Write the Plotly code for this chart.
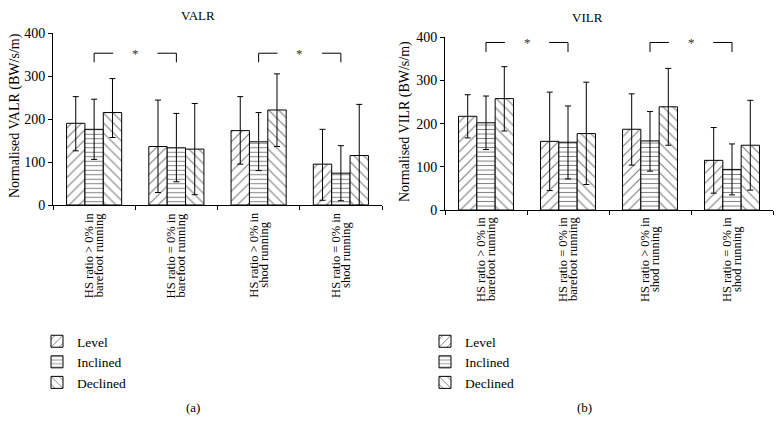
import plotly.graph_objects as go

categories = [("HS ratio > 0% in", "barefoot running"), ("HS ratio = 0% in", "barefoot running"),
              ("HS ratio > 0% in", "shod running"), ("HS ratio = 0% in", "shod running")]
series = ["Level", "Inclined", "Declined"]

# VALR (panel a)
valr_level = [190, 136, 173, 95]
valr_level_up = [62, 108, 79, 81]
valr_level_dn = [64, 107, 78, 84]
valr_incl = [176, 133, 147, 74]
valr_incl_up = [70, 80, 68, 64]
valr_incl_dn = [70, 79, 67, 64]
valr_decl = [215, 130, 221, 115]
valr_decl_up = [79, 106, 84, 119]
valr_decl_dn = [58, 106, 85, 115]

# VILR (panel b)
vilr_level = [217, 159, 187, 115]
vilr_level_up = [50, 114, 82, 76]
vilr_level_dn = [50, 114, 83, 76]
vilr_incl = [202, 157, 160, 94]
vilr_incl_up = [62, 84, 68, 59]
vilr_incl_dn = [62, 85, 70, 59]
vilr_decl = [258, 177, 239, 150]
vilr_decl_up = [74, 119, 89, 104]
vilr_decl_dn = [75, 118, 89, 104]

# significant pairs (category indices) and bracket heights
sig_pairs = [(0, 1), (2, 3)]
valr_bracket = (353, 332)
vilr_bracket = (388, 366)

FONT = "Liberation Serif"
W, H, OFF = 774, 413, 8  # page body adds an 8px margin


def px(p):
    return (p - OFF) / W


def py(p):
    return 1 - (p - OFF) / H


patterns = {"Level": dict(shape="/", size=7, solidity=0.17), "Inclined": dict(shape="-", size=4.5, solidity=0.22),
            "Declined": dict(shape="\\", size=7, solidity=0.17)}

fig = go.Figure()
cat_keys = [" ".join(c) for c in categories]

panels = [
    ("x", "y", "legend", [(valr_level, valr_level_up, valr_level_dn),
                          (valr_incl, valr_incl_up, valr_incl_dn),
                          (valr_decl, valr_decl_up, valr_decl_dn)]),
    ("x2", "y2", "legend2", [(vilr_level, vilr_level_up, vilr_level_dn),
                             (vilr_incl, vilr_incl_up, vilr_incl_dn),
                             (vilr_decl, vilr_decl_up, vilr_decl_dn)]),
]

for xa, ya, leg, data in panels:
    for name, (vals, up, dn) in zip(series, data):
        fig.add_trace(go.Bar(
            x=cat_keys, y=vals, name=name, xaxis=xa, yaxis=ya, legend=leg,
            marker=dict(color="white", line=dict(color="black", width=1),
                        pattern=dict(fgcolor="black", bgcolor="white", **patterns[name])),
            error_y=dict(type="data", symmetric=False, array=up, arrayminus=dn,
                         color="black", thickness=1, width=3),
        ))

# significance brackets
for xa, ya, (ytop, ybot) in [("x", "y", valr_bracket), ("x2", "y2", vilr_bracket)]:
    for i, j in sig_pairs:
        ln = dict(color="black", width=1)
        fig.add_shape(type="line", xref=xa, yref=ya, x0=i, x1=i + 0.23, y0=ytop, y1=ytop, line=ln)
        fig.add_shape(type="line", xref=xa, yref=ya, x0=j - 0.23, x1=j, y0=ytop, y1=ytop, line=ln)
        fig.add_shape(type="line", xref=xa, yref=ya, x0=i, x1=i, y0=ytop, y1=ybot, line=ln)
        fig.add_shape(type="line", xref=xa, yref=ya, x0=j, x1=j, y0=ytop, y1=ybot, line=ln)
        fig.add_annotation(xref=xa, yref=ya, x=(i + j) / 2, y=ytop, text="*", showarrow=False,
                           xanchor="center", yanchor="middle",
                           font=dict(family=FONT, size=13, color="#333"))

# rotated two-line category labels (tighter line spacing than plotly ticks allow)
for xa, label_y in [("x", 255), ("x2", 259)]:
    for i, (l1, l2) in enumerate(categories):
        for txt, shift in [(l1, -5), (l2, 5)]:
            fig.add_annotation(xref=xa, yref="paper", x=i, y=py(label_y), xshift=shift, text=txt,
                               textangle=-90, showarrow=False, xanchor="center", yanchor="middle",
                               font=dict(family=FONT, size=12.5, color="black"))

axis_common = dict(showline=True, linecolor="black", linewidth=1, ticks="outside", ticklen=4,
                   tickcolor="black", tickfont=dict(family=FONT, size=14, color="black"),
                   showgrid=False, zeroline=False, automargin=False)
legend_common = dict(xanchor="left", yanchor="top", bgcolor="rgba(0,0,0,0)",
                     font=dict(family=FONT, size=13.5, color="black"), itemwidth=30, tracegroupgap=0)

fig.update_layout(
    width=W, height=H,
    margin=dict(l=0, r=0, t=0, b=0, autoexpand=False),
    paper_bgcolor="white", plot_bgcolor="white",
    barmode="group", bargap=0.33, bargroupgap=0,
    xaxis=dict(domain=[px(53), px(382)], anchor="y", tickson="boundaries", showticklabels=False,
               **axis_common),
    yaxis=dict(domain=[py(205), py(33)], anchor="x", range=[0, 400], dtick=100, **axis_common),
    xaxis2=dict(domain=[px(445), px(773)], anchor="y2", tickson="boundaries", showticklabels=False,
                **axis_common),
    yaxis2=dict(domain=[py(210), py(37.3)], anchor="x2", range=[0, 400], dtick=100, **axis_common),
    legend=dict(x=px(37), y=py(326), **legend_common),
    legend2=dict(x=px(425), y=py(326), **legend_common),
)

labels = [
    (198, 16, "VALR", 0), (587, 17, "VILR", 0), (193, 407, "(a)", 0), (584, 407, "(b)", 0),
    (15, 116, "Normalised VALR (BW/s/m)", -90), (405, 121, "Normalised VILR (BW/s/m)", -90),
]
for lx, ly, txt, ang in labels:
    fig.add_annotation(xref="paper", yref="paper", x=px(lx), y=py(ly), text=txt,
                       xanchor="center", yanchor="middle", showarrow=False, textangle=ang,
                       font=dict(family=FONT, size=14 if ang else 13, color="black"))

fig.write_html("out.html")
